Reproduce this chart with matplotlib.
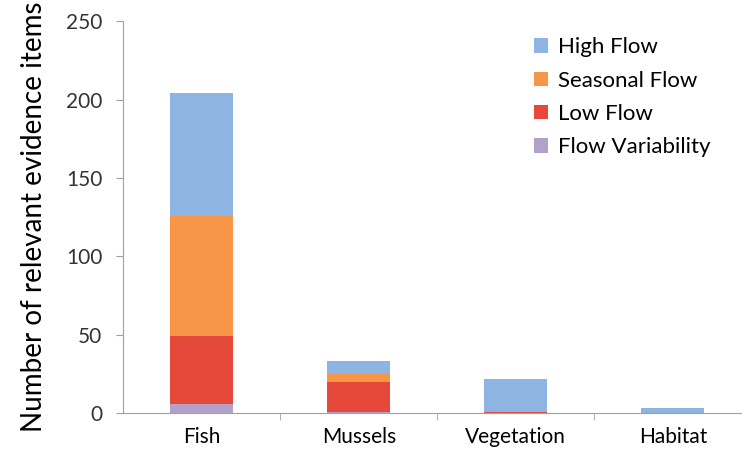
import matplotlib

matplotlib.use("Agg")
import matplotlib.pyplot as plt
import numpy as np

# カテゴリごとの証拠件数（積み上げ）
categories = ["Fish", "Mussels", "Vegetation", "Habitat"]
flow_variability = [6, 1, 0, 0]
low_flow = [43, 19, 1, 0]
seasonal_flow = [77, 5, 0, 0]
high_flow = [78, 8, 21, 3]

series_names = ["Flow Variability", "Low Flow", "Seasonal Flow", "High Flow"]
series_colors = ["#b3a2c7", "#e5493a", "#f79646", "#8eb4e3"]

plt.rcParams["font.family"] = ["Lato", "DejaVu Sans"]

fig = plt.figure(figsize=(7.42, 4.51), dpi=100)
ax = fig.add_axes([0.166, 0.084, 0.834, 0.869])

x = np.arange(len(categories))
bottom = np.zeros(len(categories))
handles = {}
for name, values, color in zip(
    series_names, [flow_variability, low_flow, seasonal_flow, high_flow], series_colors
):
    bars = ax.bar(x, values, width=0.4, bottom=bottom, color=color, label=name)
    handles[name] = bars
    bottom += np.asarray(values, dtype=float)

ax.set_xlim(-0.5, 3.44)
ax.set_ylim(0, 250)
ax.set_yticks(np.arange(0, 251, 50))
ax.set_xticks(x)
ax.set_xticklabels(categories, fontsize=15)
ax.set_xticks(np.arange(0.5, 3.5, 1), minor=True)
ax.tick_params(axis="x", which="major", length=0, pad=10)
ax.tick_params(axis="x", which="minor", length=5, color="#a0a0a0")
ax.tick_params(axis="y", labelsize=15, length=5, color="#a0a0a0", pad=10, labelcolor="#333333")
ax.set_ylabel("Number of relevant evidence items", fontsize=20, labelpad=14)

for side in ["top", "right"]:
    ax.spines[side].set_visible(False)
for side in ["left", "bottom"]:
    ax.spines[side].set_color("#a0a0a0")

order = ["High Flow", "Seasonal Flow", "Low Flow", "Flow Variability"]
ax.legend(
    [handles[n] for n in order],
    order,
    loc="upper left",
    bbox_to_anchor=(0.632, 1.01),
    frameon=False,
    fontsize=16,
    handlelength=0.6,
    handleheight=0.6,
    handletextpad=0.45,
    labelspacing=0.6,
)

fig.savefig("out.png", dpi=100)
